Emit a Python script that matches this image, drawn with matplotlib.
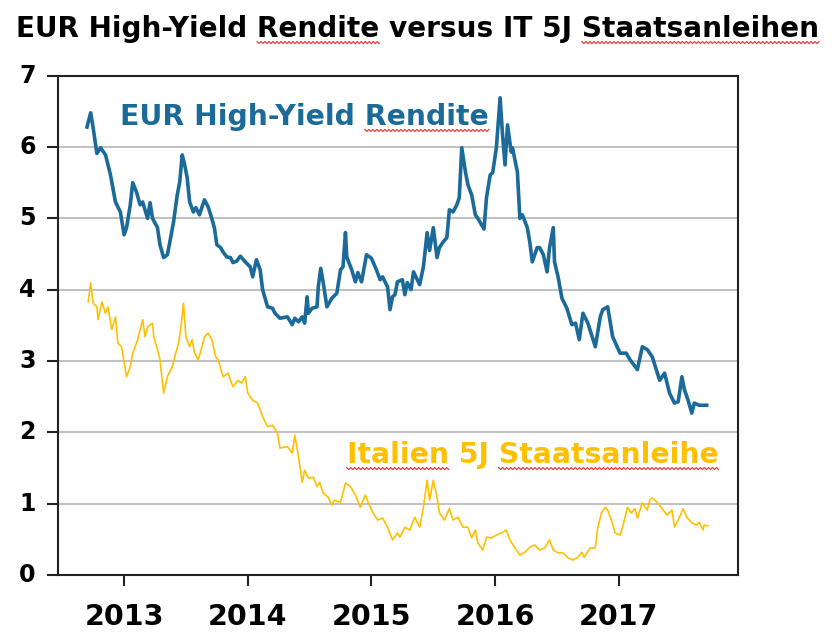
import matplotlib
matplotlib.use("Agg")
import matplotlib.pyplot as plt
from matplotlib.lines import Line2D
import numpy as np

# ---------------- data (decimal years, yield in %) ----------------
hy_dates = [2012.70, 2012.73, 2012.75, 2012.78, 2012.81, 2012.85, 2012.89, 2012.93, 2012.97, 2013.00,
            2013.02, 2013.05, 2013.07, 2013.10, 2013.13, 2013.15, 2013.19, 2013.21, 2013.23, 2013.27,
            2013.29, 2013.32, 2013.35, 2013.37, 2013.40, 2013.43, 2013.45, 2013.47, 2013.49, 2013.51,
            2013.53, 2013.56, 2013.58, 2013.61, 2013.63, 2013.65, 2013.68, 2013.70, 2013.73, 2013.75,
            2013.78, 2013.80, 2013.83, 2013.86, 2013.88, 2013.91, 2013.94, 2013.98, 2014.02, 2014.04,
            2014.07, 2014.10, 2014.12, 2014.16, 2014.20, 2014.22, 2014.26, 2014.32, 2014.36, 2014.38,
            2014.41, 2014.44, 2014.46, 2014.48, 2014.49, 2014.52, 2014.56, 2014.57, 2014.59, 2014.61,
            2014.64, 2014.68, 2014.72, 2014.75, 2014.77, 2014.79, 2014.80, 2014.84, 2014.87, 2014.89,
            2014.92, 2014.96, 2015.00, 2015.04, 2015.07, 2015.09, 2015.13, 2015.15, 2015.17, 2015.19,
            2015.21, 2015.25, 2015.27, 2015.29, 2015.32, 2015.34, 2015.37, 2015.39, 2015.42, 2015.45,
            2015.47, 2015.50, 2015.53, 2015.55, 2015.58, 2015.61, 2015.63, 2015.66, 2015.69, 2015.71,
            2015.73, 2015.76, 2015.78, 2015.81, 2015.84, 2015.86, 2015.89, 2015.91, 2015.93, 2015.96,
            2015.98, 2016.01, 2016.04, 2016.06, 2016.08, 2016.10, 2016.13, 2016.14, 2016.18, 2016.20,
            2016.22, 2016.26, 2016.28, 2016.30, 2016.34, 2016.36, 2016.39, 2016.42, 2016.44, 2016.47,
            2016.48, 2016.51, 2016.54, 2016.58, 2016.62, 2016.65, 2016.68, 2016.71, 2016.75, 2016.81,
            2016.85, 2016.87, 2016.91, 2016.95, 2017.01, 2017.06, 2017.09, 2017.15, 2017.19, 2017.23,
            2017.27, 2017.33, 2017.37, 2017.41, 2017.45, 2017.48, 2017.51, 2017.53, 2017.56, 2017.59,
            2017.61, 2017.65, 2017.71]
hy_yield = [6.28, 6.48, 6.27, 5.91, 5.99, 5.89, 5.61, 5.23, 5.09, 4.77,
            4.87, 5.19, 5.50, 5.37, 5.19, 5.23, 5.00, 5.22, 5.00, 4.87,
            4.63, 4.45, 4.49, 4.67, 4.95, 5.33, 5.51, 5.89, 5.75, 5.57,
            5.23, 5.09, 5.15, 5.05, 5.16, 5.26, 5.16, 5.05, 4.87, 4.63,
            4.59, 4.53, 4.46, 4.45, 4.38, 4.40, 4.47, 4.39, 4.32, 4.18,
            4.42, 4.28, 4.00, 3.76, 3.74, 3.67, 3.60, 3.62, 3.51, 3.60,
            3.55, 3.62, 3.53, 3.90, 3.67, 3.74, 3.76, 4.04, 4.30, 4.10,
            3.76, 3.88, 3.95, 4.28, 4.32, 4.80, 4.46, 4.28, 4.11, 4.24,
            4.11, 4.49, 4.44, 4.28, 4.14, 4.18, 4.04, 3.72, 3.90, 3.93,
            4.11, 4.14, 3.93, 4.10, 4.00, 4.25, 4.14, 4.07, 4.32, 4.80,
            4.55, 4.87, 4.45, 4.59, 4.67, 4.73, 5.12, 5.09, 5.19, 5.29,
            5.99, 5.65, 5.47, 5.33, 5.05, 5.00, 4.91, 4.85, 5.29, 5.61,
            5.64, 5.99, 6.69, 6.17, 5.75, 6.31, 5.93, 5.99, 5.65, 5.00,
            5.05, 4.87, 4.67, 4.39, 4.59, 4.59, 4.49, 4.25, 4.59, 4.87,
            4.39, 4.17, 3.88, 3.74, 3.51, 3.53, 3.30, 3.67, 3.53, 3.20,
            3.62, 3.72, 3.76, 3.34, 3.11, 3.11, 3.02, 2.88, 3.20, 3.16,
            3.06, 2.73, 2.83, 2.55, 2.41, 2.43, 2.78, 2.60, 2.45, 2.27,
            2.41, 2.38, 2.38]

it_dates = [2012.71, 2012.73, 2012.75, 2012.78, 2012.79, 2012.82, 2012.85, 2012.87, 2012.90, 2012.93,
            2012.95, 2012.98, 2013.02, 2013.05, 2013.07, 2013.11, 2013.15, 2013.17, 2013.19, 2013.23,
            2013.24, 2013.27, 2013.29, 2013.32, 2013.35, 2013.39, 2013.41, 2013.44, 2013.46, 2013.48,
            2013.50, 2013.53, 2013.55, 2013.57, 2013.60, 2013.63, 2013.65, 2013.68, 2013.71, 2013.74,
            2013.76, 2013.80, 2013.84, 2013.88, 2013.92, 2013.95, 2013.98, 2014.00, 2014.04, 2014.08,
            2014.12, 2014.16, 2014.20, 2014.24, 2014.26, 2014.32, 2014.36, 2014.38, 2014.41, 2014.44,
            2014.46, 2014.49, 2014.53, 2014.56, 2014.58, 2014.61, 2014.65, 2014.68, 2014.70, 2014.75,
            2014.79, 2014.83, 2014.87, 2014.91, 2014.95, 2014.99, 2015.01, 2015.05, 2015.09, 2015.13,
            2015.17, 2015.21, 2015.23, 2015.27, 2015.31, 2015.35, 2015.39, 2015.42, 2015.45, 2015.47,
            2015.50, 2015.53, 2015.55, 2015.59, 2015.63, 2015.66, 2015.70, 2015.74, 2015.78, 2015.81,
            2015.84, 2015.86, 2015.90, 2015.93, 2015.97, 2016.01, 2016.05, 2016.09, 2016.12, 2016.16,
            2016.20, 2016.24, 2016.28, 2016.32, 2016.36, 2016.40, 2016.44, 2016.47, 2016.51, 2016.55,
            2016.59, 2016.63, 2016.67, 2016.70, 2016.72, 2016.77, 2016.81, 2016.83, 2016.86, 2016.89,
            2016.91, 2016.94, 2016.97, 2017.01, 2017.03, 2017.07, 2017.10, 2017.13, 2017.15, 2017.19,
            2017.23, 2017.25, 2017.27, 2017.31, 2017.35, 2017.39, 2017.43, 2017.45, 2017.48, 2017.52,
            2017.55, 2017.59, 2017.63, 2017.65, 2017.68, 2017.69, 2017.72]
it_yield = [3.83, 4.10, 3.81, 3.76, 3.58, 3.83, 3.67, 3.76, 3.44, 3.62,
            3.25, 3.20, 2.78, 2.92, 3.11, 3.30, 3.58, 3.34, 3.48, 3.53,
            3.34, 3.16, 3.02, 2.55, 2.78, 2.92, 3.06, 3.25, 3.48, 3.81,
            3.34, 3.20, 3.30, 3.11, 3.02, 3.20, 3.34, 3.39, 3.30, 3.06,
            3.02, 2.78, 2.83, 2.64, 2.73, 2.69, 2.78, 2.55, 2.45, 2.41,
            2.22, 2.08, 2.10, 1.99, 1.78, 1.80, 1.71, 1.96, 1.66, 1.30,
            1.47, 1.36, 1.37, 1.24, 1.30, 1.15, 1.09, 0.98, 1.05, 1.02,
            1.29, 1.24, 1.12, 0.95, 1.12, 0.95, 0.88, 0.77, 0.80, 0.67,
            0.49, 0.59, 0.53, 0.67, 0.63, 0.81, 0.67, 0.95, 1.33, 1.05,
            1.33, 1.09, 0.87, 0.77, 0.93, 0.77, 0.81, 0.67, 0.67, 0.52,
            0.63, 0.45, 0.35, 0.53, 0.52, 0.56, 0.59, 0.63, 0.49, 0.38,
            0.28, 0.32, 0.39, 0.42, 0.35, 0.38, 0.49, 0.35, 0.31, 0.31,
            0.24, 0.21, 0.25, 0.32, 0.25, 0.38, 0.38, 0.67, 0.87, 0.95,
            0.91, 0.77, 0.59, 0.56, 0.67, 0.95, 0.87, 0.93, 0.80, 1.01,
            0.91, 1.05, 1.08, 1.02, 0.93, 0.84, 0.91, 0.67, 0.77, 0.93,
            0.81, 0.73, 0.70, 0.74, 0.63, 0.70, 0.69]

year_ticks = [2013, 2014, 2015, 2016, 2017]
year_labels = ["2013", "2014", "2015", "2016", "2017"]
y_ticks = [0, 1, 2, 3, 4, 5, 6, 7]

title_text = "EUR High-Yield Rendite versus IT 5J Staatsanleihen"
hy_label = "EUR High-Yield Rendite"
it_label = "Italien 5J Staatsanleihe"

BLUE = "#1B6A9A"
GOLD = "#FFC000"
FONT = "DejaVu Sans"

# ---------------- figure ----------------
fig = plt.figure(figsize=(8.35, 6.33), dpi=100)
ax = fig.add_axes([0.0695, 0.0916, 0.8144, 0.7888])

ax.plot(it_dates, it_yield, color=GOLD, lw=1.2, zorder=3)
ax.plot(hy_dates, hy_yield, color=BLUE, lw=2.6, zorder=4)

ax.set_xlim(2012.466, 2017.964)
ax.set_ylim(0, 7)
ax.set_xticks(year_ticks)
ax.set_xticklabels(year_labels, fontsize=20.5, fontweight="bold", family=FONT)
ax.set_yticks(y_ticks)
ax.set_yticklabels([str(v) for v in y_ticks], fontsize=17, fontweight="bold", family=FONT)
ax.tick_params(axis="x", direction="out", length=8, width=1.5, pad=12, color="#222222")
ax.tick_params(axis="y", direction="out", length=8, width=1.5, pad=8, color="#222222")
for lab in ax.get_yticklabels():
    lab.set_verticalalignment("center")
ax.yaxis.grid(True, color="#C0C0C0", lw=1.4)
ax.set_axisbelow(True)
for s in ax.spines.values():
    s.set_color("#222222")
    s.set_linewidth(1.5)

t_title = fig.text(0.5, 0.9415, title_text, ha="center", va="baseline",
                   fontsize=20.1, fontweight="bold", family=FONT, color="black")
t_hy = ax.text(2012.968, 6.31, hy_label, ha="left", va="baseline",
               fontsize=20.3, fontweight="bold", family=FONT, color=BLUE)
t_it = ax.text(2014.80, 1.57, it_label, ha="left", va="baseline",
               fontsize=20.3, fontweight="bold", family=FONT, color=GOLD)

# ---------------- spell-check style wavy underlines ----------------
fig.canvas.draw()
renderer = fig.canvas.get_renderer()


def text_width(t, s):
    tmp = fig.text(0, 0, s, fontsize=t.get_fontsize(), fontweight=t.get_fontweight(),
                   family=t.get_fontfamily())
    w = tmp.get_window_extent(renderer).width
    tmp.remove()
    return w


def wavy(t, word, start_at=0):
    s = t.get_text()
    i = s.index(word, start_at)
    bb = t.get_window_extent(renderer)
    x0 = bb.x0
    w_full = text_width(t, s[:i + len(word)])
    w_word = text_width(t, word)
    xa, xb = x0 + w_full - w_word, x0 + w_full
    base = t.get_transform().transform(t.get_position())[1]
    y = base - 5.5
    n = int((xb - xa) / 2.0)
    xs = np.linspace(xa, xb, n + 1)
    ys = y + np.where(np.arange(n + 1) % 2 == 0, 1.0, -1.0)
    inv = fig.transFigure.inverted()
    pts = inv.transform(np.column_stack([xs, ys]))
    fig.add_artist(Line2D(pts[:, 0], pts[:, 1], color="#E8413C", lw=0.9,
                          transform=fig.transFigure))


wavy(t_title, "Rendite")
wavy(t_title, "Staatsanleihen")
wavy(t_hy, "Rendite")
wavy(t_it, "Italien")
wavy(t_it, "Staatsanleihe")

fig.savefig("out.png", dpi=100)
